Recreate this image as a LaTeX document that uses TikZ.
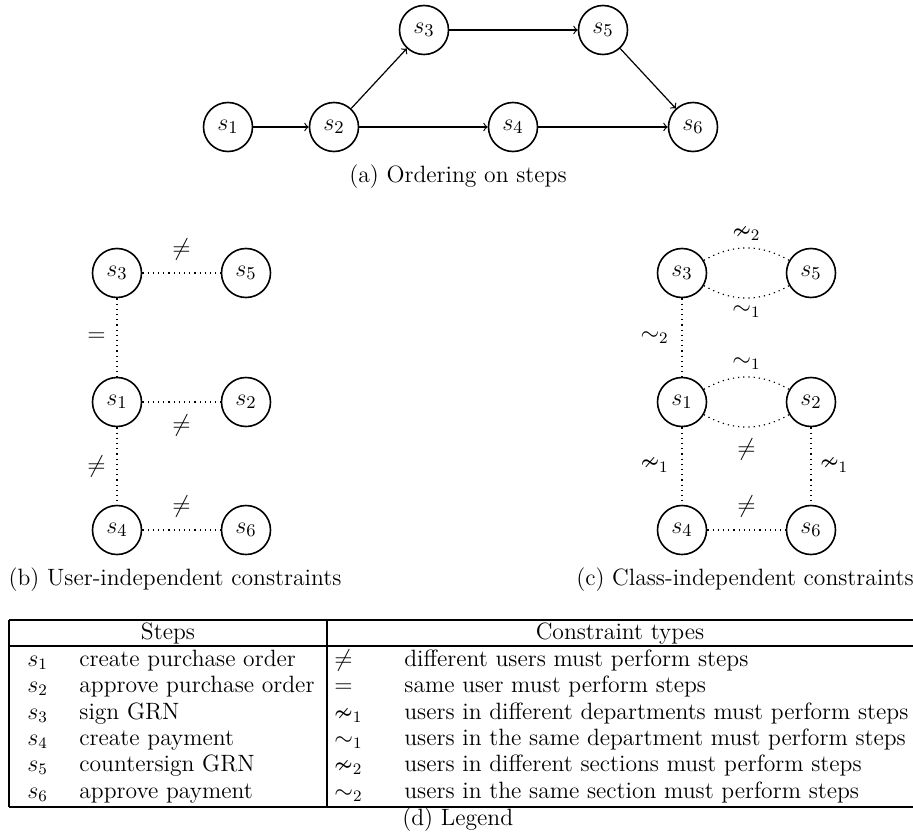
\documentclass[tikz,border=0pt]{standalone}
\usepackage{amsmath}
\usepackage{amssymb}
\usetikzlibrary{arrows, positioning}

\begin{document}
\begin{tikzpicture}[x=0.5pt,y=-0.5pt,font=\fontsize{11.8}{14}\selectfont,on grid,
  main node/.style={circle,draw,thick,minimum size=24.5pt,inner sep=0pt,font=\fontsize{12.6}{15}\selectfont},
  con/.style={dotted,semithick},
  ord/.style={->,semithick},
  cell/.style={anchor=base west,inner sep=0pt}]

        \useasboundingbox (0,0) rectangle (913,834);

        % (a) ordering
        \node[main node] (a1) at (228,127)                  {$s_1$};
        \node[main node] (a2) [right=53pt of a1]            {$s_2$};
        \node[main node] (a4) [right=89.5pt of a2]          {$s_4$};
        \node[main node] (a6) [right=90pt of a4]            {$s_6$};
        \node[main node] (a3) [above right=48.5pt and 45pt of a2] {$s_3$};
        \node[main node] (a5) [above right=48.5pt and 45pt of a4] {$s_5$};

          \path[ord]
            (a1) edge (a2)
            (a2) edge (a3)
                 edge (a4)
            (a3) edge (a5)
            (a4) edge (a6)
            (a5) edge (a6);

        \node (capa) at (458,183) [anchor=base] {(a)~Ordering on steps};

        % (b) user-independent
        \node[main node] (b3) at (117,273)                  {$s_3$};
        \node[main node] (b5) [right=64.5pt of b3]          {$s_5$};
        \node[main node] (b1) [below=64.5pt of b3]          {$s_1$};
        \node[main node] (b2) [right=64.5pt of b1]          {$s_2$};
        \node[main node] (b4) [below=64pt of b1]            {$s_4$};
        \node[main node] (b6) [right=64.5pt of b4]          {$s_6$};

          \path[con]
            (b3) edge node [above=3pt] {$\neq$} (b5)
                 edge node [left=2pt]  {$=$}    (b1)
            (b1) edge node [below=3pt] {$\neq$} (b2)
                 edge node [left=2pt]  {$\neq$} (b4)
            (b4) edge node [above=3pt] {$\neq$} (b6);

        \node (capb) at (175,585) [anchor=base] {(b)~User-independent constraints};

        % (c) class-independent
        \node[main node] (c3) at (682,273)                  {$s_3$};
        \node[main node] (c5) [right=64.5pt of c3]          {$s_5$};
        \node[main node] (c1) [below=64.5pt of c3]          {$s_1$};
        \node[main node] (c2) [right=64.5pt of c1]          {$s_2$};
        \node[main node] (c4) [below=64pt of c1]            {$s_4$};
        \node[main node] (c6) [right=64.5pt of c4]          {$s_6$};

          \path[con]
            (c3) edge [bend left]  node [above] {$\nsim_2$} (c5)
                 edge [bend right] node [below] {$\sim_1$}  (c5)
                 edge              node [left=3pt] {$\sim_2$} (c1)
            (c1) edge [bend left]  node [above] {$\sim_1$}  (c2)
                 edge [bend right] node [below=2pt] {$\neq$} (c2)
                 edge              node [left=3pt] {$\nsim_1$} (c4)
            (c2) edge              node [right=1pt] {$\nsim_1$} (c6)
            (c4) edge              node [above=3pt] {$\neq$} (c6);

        \node (capc) at (745,585) [anchor=base] {(c)~Class-independent constraints};

        % (d) legend table
        \draw[semithick] (9,620) -- (913,620);
        \draw[semithick] (9,646) -- (913,646);
        \draw[semithick] (9,807) -- (913,807);
        \draw[semithick] (9,620) -- (9,807);
        \draw[semithick] (327,620) -- (327,807);

        \node (hs) at (168,639) [anchor=base] {Steps};
        \node (hc) at (620,639) [anchor=base] {Constraint types};

        \node[cell] (st1) at (27,666)   {$s_1$};
        \node[cell] (sd1) at (79,666)   {create purchase order};
        \node[cell] (st2) at (27,692)   {$s_2$};
        \node[cell] (sd2) at (79,692)   {approve purchase order};
        \node[cell] (st3) at (27,719)   {$s_3$};
        \node[cell] (sd3) at (79,719)   {sign GRN};
        \node[cell] (st4) at (27,745)   {$s_4$};
        \node[cell] (sd4) at (79,745)   {create payment};
        \node[cell] (st5) at (27,771)   {$s_5$};
        \node[cell] (sd5) at (79,771)   {countersign GRN};
        \node[cell] (st6) at (27,798)   {$s_6$};
        \node[cell] (sd6) at (79,798)   {approve payment};

        \node[cell] (ct1) at (334,666)  {$\neq$};
        \node[cell] (cd1) at (404,666)  {different users must perform steps};
        \node[cell] (ct2) at (334,692)  {$=$};
        \node[cell] (cd2) at (404,692)  {same user must perform steps};
        \node[cell] (ct3) at (334,719)  {$\nsim_1$};
        \node[cell] (cd3) at (404,719)  {users in different departments must perform steps};
        \node[cell] (ct4) at (334,745)  {$\sim_1$};
        \node[cell] (cd4) at (404,745)  {users in the same department must perform steps};
        \node[cell] (ct5) at (334,771)  {$\nsim_2$};
        \node[cell] (cd5) at (404,771)  {users in different sections must perform steps};
        \node[cell] (ct6) at (334,798)  {$\sim_2$};
        \node[cell] (cd6) at (404,798)  {users in the same section must perform steps};

        \node[cell] (capd) at (402,825) {(d)~Legend};
        \end{tikzpicture}
\end{document}
